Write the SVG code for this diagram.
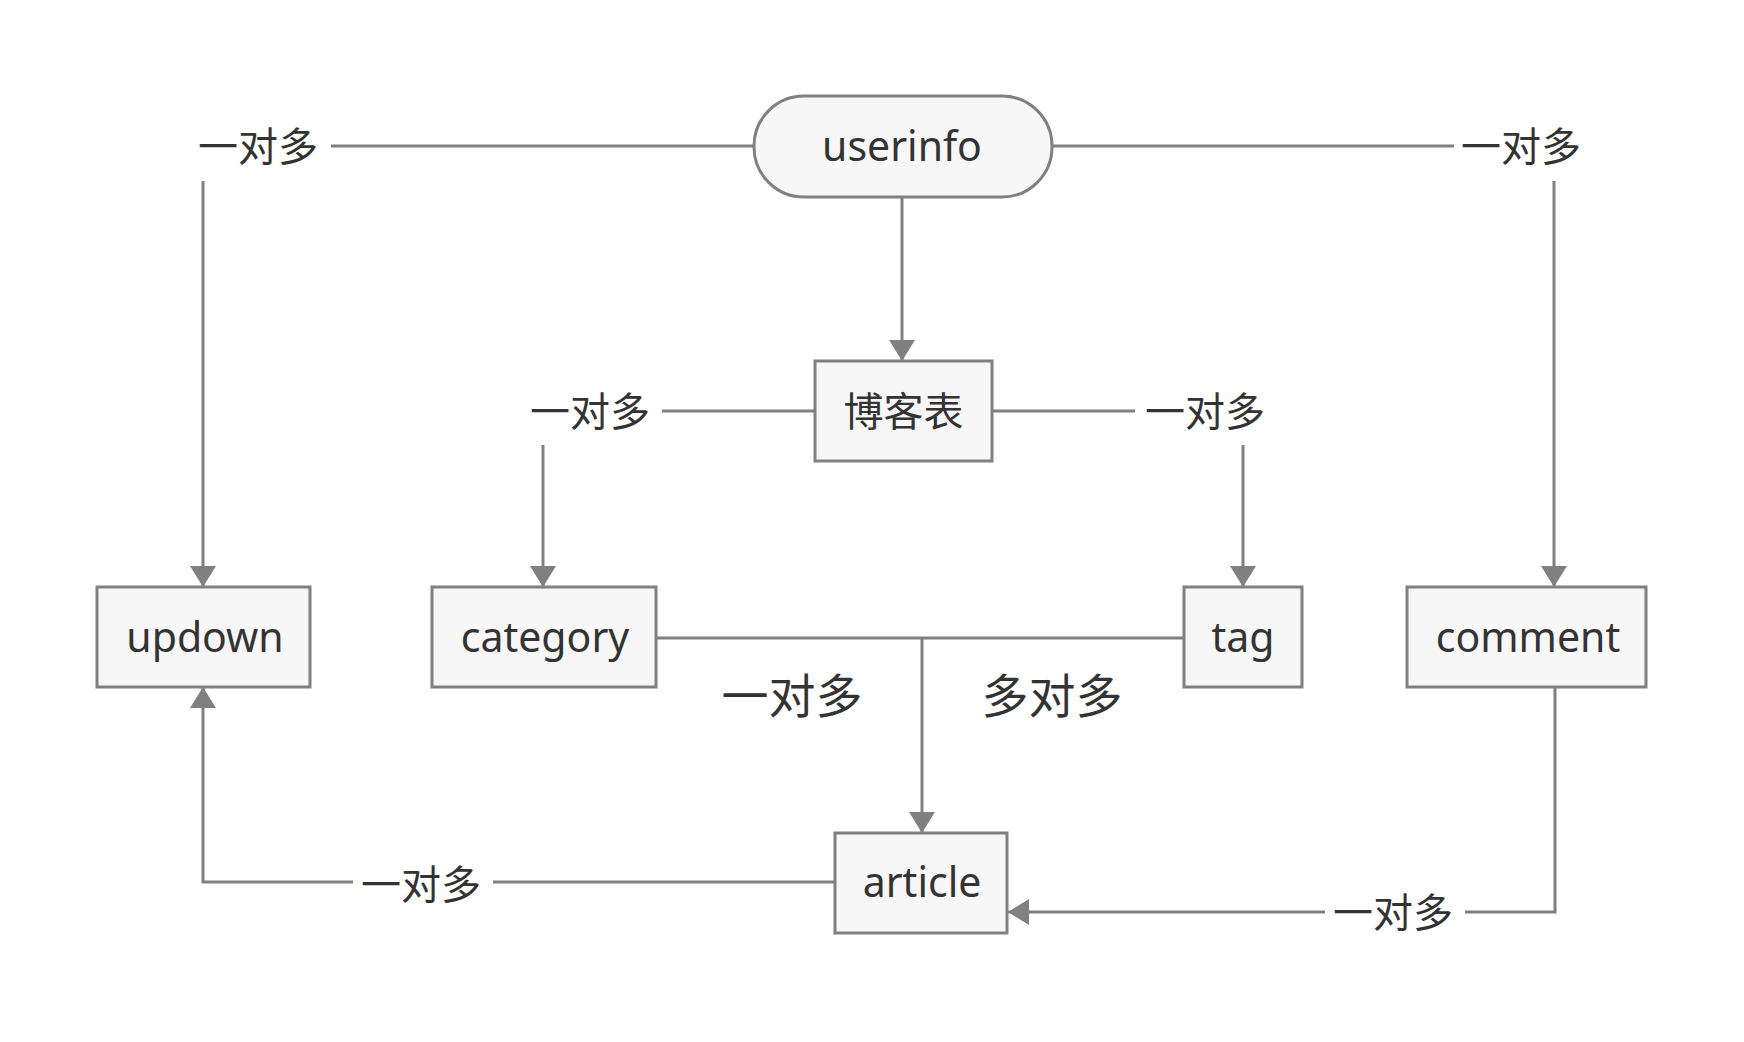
<svg xmlns="http://www.w3.org/2000/svg" width="1744" height="1042" viewBox="0 0 1744 1042">
<style>
.box{fill:#f7f7f7;stroke:#808080;stroke-width:3}
.lbl{font-family:"Noto Sans","Open Sans",sans-serif;font-size:41px;fill:#333;text-anchor:middle}
.cjk{font-family:"Noto Sans CJK SC","Noto Sans",sans-serif;font-size:40px;fill:#333;text-anchor:middle;dominant-baseline:central}
.big{font-size:47px}
.ln{fill:none;stroke:#808080;stroke-width:3}
</style>
<defs>
<marker id="ah" markerUnits="userSpaceOnUse" markerWidth="22" markerHeight="28" refX="21" refY="14" orient="auto" viewBox="0 0 22 28">
<path d="M0,1 L21,14 L0,27 z" fill="#808080"/>
</marker>
</defs>
<rect width="1744" height="1042" fill="#fff"/>
<g id="connectors">
<path class="ln" d="M753,146 H331"/>
<path class="ln" d="M203,181 V587" marker-end="url(#ah)"/>
<path class="ln" d="M1053,146 H1454"/>
<path class="ln" d="M1554,181 V587" marker-end="url(#ah)"/>
<path class="ln" d="M902,197 V361" marker-end="url(#ah)"/>
<path class="ln" d="M815,411 H662"/>
<path class="ln" d="M543,445 V587" marker-end="url(#ah)"/>
<path class="ln" d="M992,411 H1135"/>
<path class="ln" d="M1243,445 V587" marker-end="url(#ah)"/>
<path class="ln" d="M656,638 H1184"/>
<path class="ln" d="M922,638 V833" marker-end="url(#ah)"/>
<path class="ln" d="M835,882 H493"/>
<path class="ln" d="M353,882 H203 V687" marker-end="url(#ah)"/>
<path class="ln" d="M1555,687 V912 H1465"/>
<path class="ln" d="M1325,912 H1008" marker-end="url(#ah)"/>
<text class="cjk" x="258" y="144">一对多</text>
<text class="cjk" x="1521" y="144">一对多</text>
<text class="cjk" x="590" y="409">一对多</text>
<text class="cjk" x="1205" y="409">一对多</text>
<text class="cjk big" x="792" y="692">一对多</text>
<text class="cjk big" x="1052" y="692">多对多</text>
<text class="cjk" x="421" y="882">一对多</text>
<text class="cjk" x="1393" y="910">一对多</text>
</g>
<g id="userinfo">
<rect class="box" x="754" y="96" width="298" height="101" rx="50" ry="50"/>
<text class="lbl" x="902" y="161">userinfo</text>
</g>
<g id="blog">
<rect class="box" x="815" y="361" width="177" height="100"/>
<text class="cjk" x="903.5" y="409">博客表</text>
</g>
<g id="updown">
<rect class="box" x="97" y="587" width="213" height="100"/>
<text class="lbl" x="205" y="652">updown</text>
</g>
<g id="category">
<rect class="box" x="432" y="587" width="224" height="100"/>
<text class="lbl" x="545" y="652">category</text>
</g>
<g id="tag">
<rect class="box" x="1184" y="587" width="118" height="100"/>
<text class="lbl" x="1243" y="652">tag</text>
</g>
<g id="comment">
<rect class="box" x="1407" y="587" width="239" height="100"/>
<text class="lbl" x="1528" y="652">comment</text>
</g>
<g id="article">
<rect class="box" x="835" y="833" width="172" height="100"/>
<text class="lbl" x="922" y="897">article</text>
</g>
</svg>
